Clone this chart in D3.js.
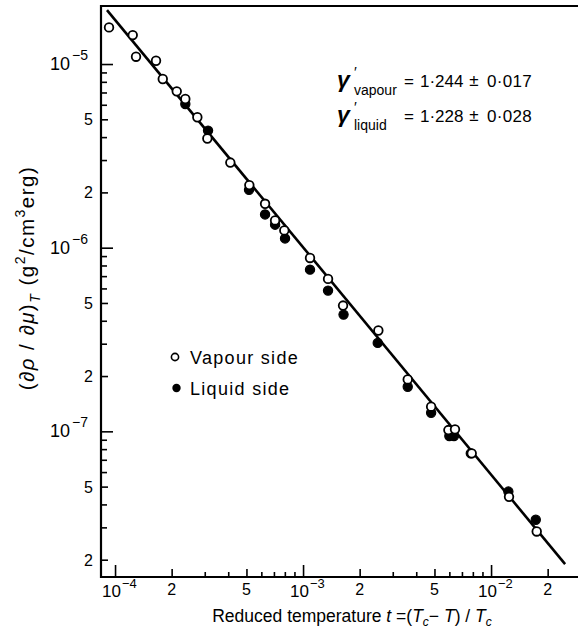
<!DOCTYPE html>
<html>
<head>
<meta charset="utf-8">
<script src="https://cdn.jsdelivr.net/npm/d3@7/dist/d3.min.js"></script>
<style>
  html, body { margin: 0; padding: 0; background: #fff; }
  svg { display: block; }
  text { font-family: "Liberation Sans", Arial, sans-serif; fill: #000; }
</style>
</head>
<body>
<svg id="chart" width="578" height="640"></svg>
<script>
// ---------- data ----------
const vapourT = [9.29e-5, 1.242e-4, 1.293e-4, 1.652e-4, 1.794e-4, 2.129e-4, 2.365e-4, 2.74e-4, 3.097e-4,
  4.104e-4, 5.18e-4, 6.28e-4, 7.10e-4, 7.95e-4, 1.089e-3, 1.358e-3, 1.632e-3, 2.515e-3, 3.604e-3,
  4.80e-3, 5.93e-3, 6.43e-3, 7.89e-3, 1.246e-2, 1.749e-2];
const vapourY = [1.583e-5, 1.437e-5, 1.096e-5, 1.042e-5, 8.29e-6, 7.10e-6, 6.45e-6, 5.13e-6, 3.93e-6,
  2.907e-6, 2.192e-6, 1.734e-6, 1.407e-6, 1.242e-6, 8.79e-7, 6.76e-7, 4.84e-7, 3.54e-7, 1.917e-7,
  1.362e-7, 1.016e-7, 1.025e-7, 7.59e-8, 4.40e-8, 2.85e-8];
const liquidT = [2.365e-4, 3.124e-4, 5.16e-4, 6.28e-4, 7.10e-4, 8.02e-4, 1.089e-3, 1.358e-3, 1.642e-3,
  2.496e-3, 3.604e-3, 4.80e-3, 6.00e-3, 6.35e-3, 7.8e-3, 1.236e-2, 1.729e-2];
const liquidY = [6.06e-6, 4.34e-6, 2.066e-6, 1.517e-6, 1.334e-6, 1.123e-6, 7.59e-7, 5.84e-7, 4.32e-7,
  3.03e-7, 1.749e-7, 1.263e-7, 9.43e-8, 9.43e-8, 7.59e-8, 4.70e-8, 3.30e-8];
// fitted straight line (endpoints)
const fitT = [9.06e-5, 2.477e-2];
const fitY = [1.965e-5, 1.892e-8];

// axes
const xDomain = [8.42e-5, 2.9e-2];
const yDomain = [2.07e-5, 1.61e-8];
const xMajor = [1e-4, 1e-3, 1e-2];
const xMajorExp = ["−4", "−3", "−2"];
const xLabelled = [2e-4, 5e-4, 2e-3, 5e-3, 2e-2];
const xLabelledText = ["2", "5", "2", "5", "2"];
const xMinor = [3e-4, 4e-4, 6e-4, 7e-4, 8e-4, 9e-4, 3e-3, 4e-3, 6e-3, 7e-3, 8e-3, 9e-3];
const yMajor = [1e-5, 1e-6, 1e-7];
const yMajorExp = ["−5", "−6", "−7"];
const yLabelled = [5e-6, 2e-6, 5e-7, 2e-7, 5e-8, 2e-8];
const yLabelledText = ["5", "2", "5", "2", "5", "2"];
const yMinor = [9e-6, 8e-6, 7e-6, 6e-6, 4e-6, 3e-6, 9e-7, 8e-7, 7e-7, 6e-7, 4e-7, 3e-7,
  9e-8, 8e-8, 7e-8, 6e-8, 4e-8, 3e-8];

const legendLabels = ["Vapour side", "Liquid side"];
const gammaSubs = ["vapour", "liquid"];
const gammaValues = ["1·244", "1·228"];
const gammaErrors = ["0·017", "0·028"];

// ---------- drawing ----------
const svg = d3.select("#chart");
const pLeft = 101, pRight = 578, pTop = 6, pBottom = 577;
const x = d3.scaleLog().domain(xDomain).range([pLeft, pRight]);
const y = d3.scaleLog().domain(yDomain).range([pTop, pBottom]);

function tickAxis(axisFn, scale, vals, size, transform) {
  const g = svg.append("g").attr("transform", transform)
    .call(axisFn(scale).tickValues(vals).tickSizeInner(-size).tickSizeOuter(0).tickFormat(""));
  g.select(".domain").remove();
  g.selectAll("line").attr("stroke", "#000").attr("stroke-width", 1.6);
  return g;
}
tickAxis(d3.axisBottom, x, xMajor, 12, `translate(0,${pBottom})`);
tickAxis(d3.axisBottom, x, xLabelled, 8, `translate(0,${pBottom})`);
tickAxis(d3.axisBottom, x, xMinor, 5, `translate(0,${pBottom})`);
tickAxis(d3.axisLeft, y, yMajor, 12, `translate(${pLeft},0)`);
tickAxis(d3.axisLeft, y, yLabelled, 7, `translate(${pLeft},0)`);
tickAxis(d3.axisLeft, y, yMinor, 6, `translate(${pLeft},0)`);

// frame (left, top, bottom)
svg.append("path")
  .attr("d", `M${pRight},${pTop}H${pLeft}V${pBottom}H${pRight}`)
  .attr("fill", "none").attr("stroke", "#000").attr("stroke-width", 2.2);

// x tick labels
xMajor.forEach((v, i) => {
  const t = svg.append("text").attr("x", x(v) - 13).attr("y", 597).attr("font-size", 17);
  t.append("tspan").text("10");
  t.append("tspan").attr("dy", -9).attr("dx", 1).attr("font-size", 13).text(xMajorExp[i]);
});
xLabelled.forEach((v, i) => {
  svg.append("text").attr("x", x(v)).attr("y", 595).attr("font-size", 16)
    .attr("text-anchor", "middle").text(xLabelledText[i]);
});
// y tick labels
yMajor.forEach((v, i) => {
  const t = svg.append("text").attr("x", 50).attr("y", y(v) + 6).attr("font-size", 18);
  t.append("tspan").text("10");
  t.append("tspan").attr("dy", -10).attr("dx", 2).attr("font-size", 14).text(yMajorExp[i]);
});
yLabelled.forEach((v, i) => {
  svg.append("text").attr("x", 93).attr("y", y(v) + 6).attr("font-size", 16)
    .attr("text-anchor", "end").text(yLabelledText[i]);
});

// axis titles
const xt = svg.append("text").attr("x", 352).attr("y", 622).attr("font-size", 17.5)
  .attr("text-anchor", "middle");
xt.append("tspan").text("Reduced temperature ");
xt.append("tspan").attr("font-style", "italic").text("t");
xt.append("tspan").text(" =(");
xt.append("tspan").attr("font-style", "italic").text("T");
xt.append("tspan").attr("dy", 4).attr("font-size", 12).attr("font-style", "italic").text("c");
xt.append("tspan").attr("dy", -4).text("− ");
xt.append("tspan").attr("font-style", "italic").text("T");
xt.append("tspan").text(") / ");
xt.append("tspan").attr("font-style", "italic").text("T");
xt.append("tspan").attr("dy", 4).attr("font-size", 12).attr("font-style", "italic").text("c");

const yt = svg.append("text").attr("transform", "translate(34,278) rotate(-90)")
  .attr("font-size", 20.5).attr("letter-spacing", 1.5).attr("text-anchor", "middle");
yt.append("tspan").text("(∂");
yt.append("tspan").attr("font-style", "italic").text("ρ");
yt.append("tspan").text(" / ∂");
yt.append("tspan").attr("font-style", "italic").text("μ");
yt.append("tspan").text(")");
yt.append("tspan").attr("dy", 6).attr("font-size", 14).attr("font-style", "italic").text("T");
yt.append("tspan").attr("dy", -6).text(" (g");
yt.append("tspan").attr("dy", -9).attr("font-size", 14).text("2");
yt.append("tspan").attr("dy", 9).text("/cm");
yt.append("tspan").attr("dy", -9).attr("font-size", 14).text("3");
yt.append("tspan").attr("dy", 9).text("erg)");

// fit line
svg.append("path")
  .datum(fitT.map((t, i) => [t, fitY[i]]))
  .attr("d", d3.line().x(d => x(d[0])).y(d => y(d[1])))
  .attr("fill", "none").attr("stroke", "#000").attr("stroke-width", 2.6);

// points
svg.append("g").selectAll("circle")
  .data(liquidT.map((t, i) => [t, liquidY[i]]))
  .join("circle")
  .attr("cx", d => x(d[0])).attr("cy", d => y(d[1])).attr("r", 4.6)
  .attr("fill", "#000").attr("stroke", "#000").attr("stroke-width", 1.2);
svg.append("g").selectAll("circle")
  .data(vapourT.map((t, i) => [t, vapourY[i]]))
  .join("circle")
  .attr("cx", d => x(d[0])).attr("cy", d => y(d[1])).attr("r", 4.3)
  .attr("fill", "#fff").attr("stroke", "#000").attr("stroke-width", 1.8);

// legend
const lg = svg.append("g");
lg.append("circle").attr("cx", 175).attr("cy", 357).attr("r", 3.6)
  .attr("fill", "#fff").attr("stroke", "#000").attr("stroke-width", 1.6);
lg.append("circle").attr("cx", 176.5).attr("cy", 388).attr("r", 4.2).attr("fill", "#000");
lg.append("text").attr("x", 190).attr("y", 364).attr("font-size", 18).attr("letter-spacing", 1.3).text(legendLabels[0]);
lg.append("text").attr("x", 190).attr("y", 395).attr("font-size", 18).attr("letter-spacing", 1.3).text(legendLabels[1]);

// annotation
[87, 122].forEach((yb, i) => {
  const g = svg.append("g");
  g.append("text").attr("x", 337).attr("y", yb).attr("font-size", 23)
    .attr("font-style", "italic").attr("font-weight", "bold").text("γ");
  g.append("text").attr("x", 354).attr("y", yb - 10).attr("font-size", 15).text("′");
  g.append("text").attr("x", 354).attr("y", yb + 8).attr("font-size", 14).text(gammaSubs[i]);
  g.append("text").attr("x", 404).attr("y", yb).attr("font-size", 17).text("=");
  g.append("text").attr("x", 420).attr("y", yb).attr("font-size", 17).text(gammaValues[i]);
  g.append("text").attr("x", 474).attr("y", yb - 1).attr("font-size", 17)
    .attr("text-anchor", "middle").text("±");
  g.append("text").attr("x", 487).attr("y", yb).attr("font-size", 17).attr("letter-spacing", 0.3).text(gammaErrors[i]);
});
</script>
</body>
</html>
